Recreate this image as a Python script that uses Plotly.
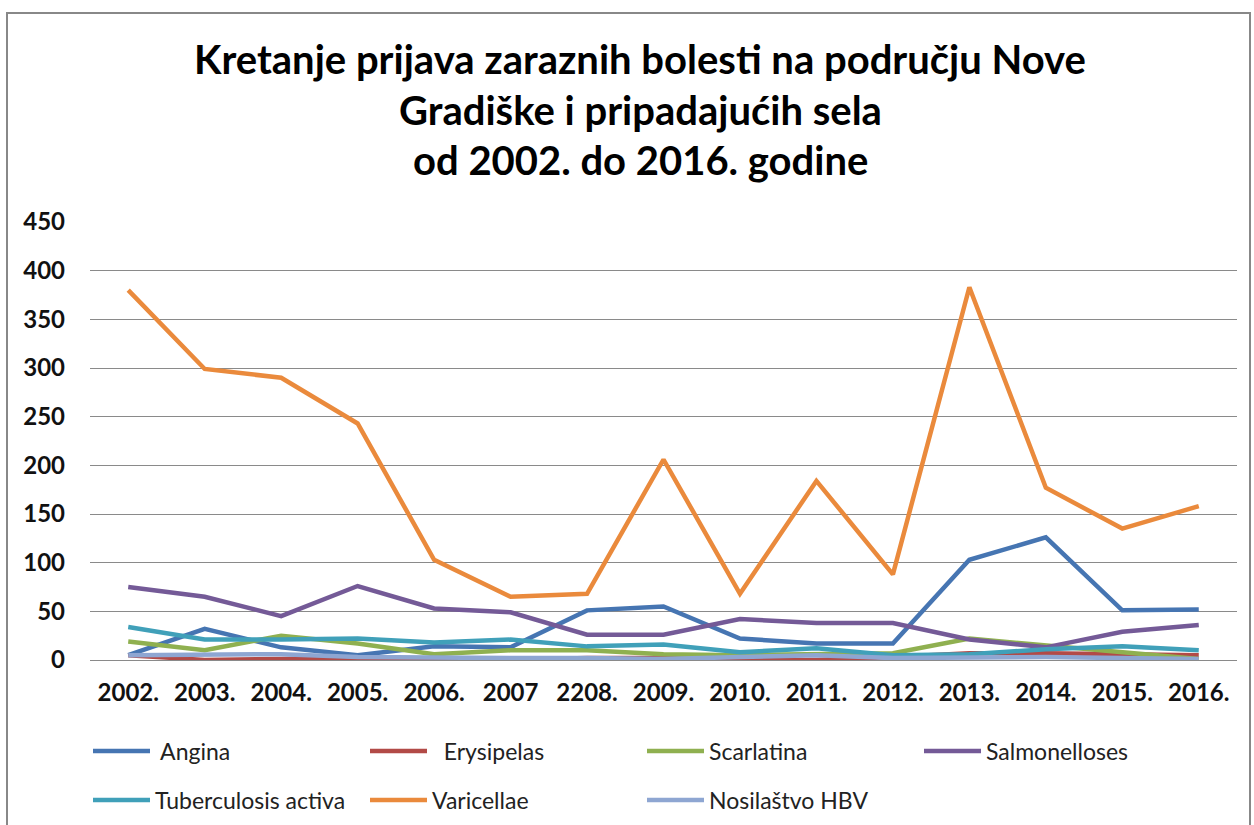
import plotly.graph_objects as go

years = ["2002.", "2003.", "2004.", "2005.", "2006.", "2007", "2208.", "2009.",
         "2010.", "2011.", "2012.", "2013.", "2014.", "2015.", "2016."]

angina = [5, 32, 13, 5, 14, 13, 51, 55, 22, 17, 17, 103, 126, 51, 52]
erysipelas = [5, 0, 1, 2, 1, 0, 2, 2, 0, 0, 3, 7, 7, 6, 5]
scarlatina = [19, 10, 25, 17, 6, 10, 10, 6, 5, 6, 7, 22, 15, 9, 1]
salmonelloses = [75, 65, 45, 76, 53, 49, 26, 26, 42, 38, 38, 21, 13, 29, 36]
tuberculosis = [34, 21, 21, 22, 18, 21, 14, 16, 8, 12, 5, 6, 11, 14, 10]
varicellae = [380, 299, 290, 243, 103, 65, 68, 206, 68, 184, 88, 383, 177, 135, 158]
hbv = [5, 5, 6, 3, 2, 2, 2, 1, 3, 5, 2, 3, 3, 2, 1]

series = [
    (" Angina", angina, "#4675B2", "legend"),
    ("  Erysipelas", erysipelas, "#B24A47", "legend"),
    ("Scarlatina", scarlatina, "#8FB050", "legend"),
    ("Salmonelloses", salmonelloses, "#745A97", "legend"),
    ("Tuberculosis activa", tuberculosis, "#40A0B9", "legend2"),
    ("Varicellae", varicellae, "#EA8A3C", "legend2"),
    ("Nosilaštvo HBV", hbv, "#8EA6D2", "legend2"),
]

fig = go.Figure()
for name, vals, color, lg in series:
    fig.add_trace(go.Scatter(
        x=years, y=vals, name=name, mode="lines",
        line=dict(color=color, width=4.5),
        legend=lg,
    ))

W, H = 1254, 825
ml, mr, mt, mb = 90, 17, 222, 165
pw, ph = W - ml - mr, H - mt - mb


def px_x(p):
    return (p - ml) / pw


def px_y(p):
    return (H - mb - p) / ph


FONT = "Lato"
legend_common = dict(
    orientation="h", xanchor="left", yanchor="middle",
    xref="container", yref="container",
    font=dict(family=FONT, size=23, color="#222"),
    entrywidth=205, entrywidthmode="pixels",
    bgcolor="rgba(0,0,0,0)", itemwidth=57,
)

fig.update_layout(
    width=W, height=H,
    margin=dict(l=ml, r=mr, t=mt, b=mb, autoexpand=False),
    paper_bgcolor="white", plot_bgcolor="white",
    showlegend=True,
    legend=dict(x=88 / W, y=1 - 751 / H, **legend_common),
    legend2=dict(x=88 / W, y=1 - 800 / H, **legend_common),
    xaxis=dict(
        type="category", range=[-0.5, 14.5],
        showgrid=False, showline=False, zeroline=False,
        ticks="", ticklabelstandoff=16,
        tickfont=dict(family=FONT, size=24, color="#111", weight="bold"),
    ),
    yaxis=dict(
        range=[0, 450], dtick=50, tick0=0,
        showgrid=True, gridcolor="#8a8a8a", gridwidth=1.3,
        zeroline=True, zerolinecolor="#8a8a8a", zerolinewidth=1.3,
        showline=False, ticks="", ticklabelstandoff=24,
        tickfont=dict(family=FONT, size=24, color="#111", weight="bold"),
    ),
)

title_lines = [
    ("Kretanje prijava zaraznih bolesti na području Nove", 59),
    ("Gradiške i pripadajućih sela", 110),
    ("od 2002. do 2016. godine", 160),
]
for txt, yp in title_lines:
    fig.add_annotation(
        text=txt, xref="paper", yref="paper",
        x=px_x(640), y=px_y(yp), xanchor="center", yanchor="middle",
        showarrow=False,
        font=dict(family=FONT, size=40, color="#000", weight="bold"),
    )

fig.add_shape(
    type="rect", xref="paper", yref="paper",
    x0=px_x(7), x1=px_x(1250), y0=px_y(830), y1=px_y(13),
    line=dict(color="#888888", width=2), fillcolor="rgba(0,0,0,0)",
    layer="above",
)

fig.write_html("out.html", config={"displayModeBar": False},
               post_script="document.body.style.margin='0';")
